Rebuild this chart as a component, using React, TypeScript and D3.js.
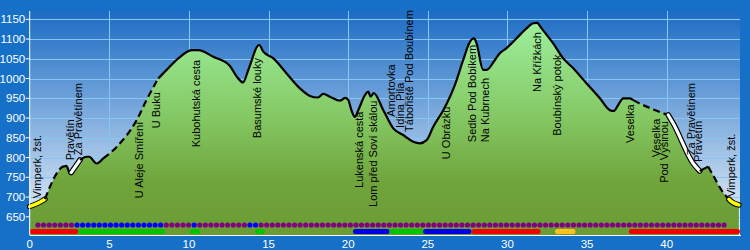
import React from "react";
import * as d3 from "d3";

// ---- profile data (km, metres) ----
const profileKm = [
  0, 0.85, 0.96, 1.27, 2.1, 2.3, 2.53, 2.6, 3.16, 3.58, 3.74, 4.2, 4.62, 5.46, 6.72, 7.34,
  8.07, 8.6, 9.33, 10.17, 10.58, 11.53, 12.57, 13.0, 13.4, 13.72, 14.41, 14.67, 15.3, 16.13,
  16.97, 17.6, 18.1, 18.43, 18.85, 19.48, 19.8, 20.0, 20.2, 20.42, 20.63, 21.05, 21.26, 21.4,
  21.6, 22.2, 22.83, 23.45, 24.08, 24.5, 24.92, 25.34, 25.97, 26.39, 26.7, 27.22, 27.64, 27.9,
  28.06, 28.47, 28.69, 29.21, 29.52, 29.94, 30.57, 31.2, 31.61, 31.86, 32.14, 32.87, 33.5,
  34.13, 34.96, 35.8, 36.43, 36.68, 36.95, 37.27, 37.69, 38.1, 39.15, 39.78, 40.09, 40.4,
  41.66, 42.07, 42.6, 42.9, 43.5, 43.75, 43.96, 44.53,
];
const profileElev = [
  676, 692, 695, 726, 777, 779, 760, 762, 794, 802, 802, 785, 798, 827, 895, 946,
  1000, 1022, 1051, 1072, 1072, 1055, 1032, 1005, 990, 1021, 1085, 1068, 1051, 1013,
  975, 956, 952, 961, 954, 944, 951, 946, 920, 903, 920, 958, 967, 954,
  963, 920, 874, 857, 840, 836, 844, 878, 920, 954, 984, 1047, 1093, 1102,
  1089, 1022, 1022, 1047, 1064, 1077, 1102, 1127, 1140, 1141, 1127, 1089, 1051,
  1026, 988, 950, 920, 918, 933, 950, 950, 941, 922, 912, 908, 887,
  785, 766, 777, 756, 714, 701, 692, 680,
];

// ---- line style segments ----
const segStart = [0, 0.96, 2.15, 2.6, 3.16, 4.62, 8.07, 37.9, 40.09, 42.07, 42.6, 43.9];
const segEnd = [0.96, 2.15, 2.6, 3.16, 4.62, 8.07, 37.9, 40.09, 42.07, 42.6, 43.9, 44.53];
const segKind = ["yellow", "dashed", "solid", "white", "solid", "dashed", "solid", "dashed", "white", "solid", "dashed", "yellow"];

// ---- waypoint labels ----
const labelNames = [
  "Vimperk, žst.", "Pravětín", "Za Pravětínem", "U Aleje Smíření", "U Buku", "Kubohutská cesta",
  "Basumské louky", "Lukenská cesta", "Lom před Soví skálou", "Amortovka", "Idina Pila",
  "Tábořiště Pod Boubínem", "U Obrázku", "Sedlo Pod Bobíkem", "Na Kubrnech", "Na Křížkách",
  "Boubínský potok", "Veselka", "Veselka", "Pod Výšinou", "Za Pravětínem", "Pravětín", "Vimperk, žst.",
];
const labelKm = [
  0.52, 2.62, 3.09, 6.92, 7.99, 10.53, 14.33, 20.77, 21.64, 22.77, 23.31, 23.87, 26.23, 27.83,
  28.64, 31.91, 33.16, 37.78, 39.38, 39.88, 41.61, 42.02, 44.09,
];
const labelBaseElev = [
  697, 793, 806, 697, 874, 826, 849, 723, 675, 903, 875, 865, 796, 839, 839, 966, 855, 837,
  801, 736, 806, 789, 700,
];

// ---- surface dots (row 1) ----
const dotBlueStart = [2.73, 10.3, 13.8, 41.5];
const dotBlueEnd = [8.3, 10.5, 14.3, 41.7];
const dotFirstKm = 0.52;
const dotLastKm = 43.6;

// ---- road type bars (row 2) ----
const barStart = [0, 3.05, 10.06, 14.15, 20.3, 22.6, 24.7, 27.75, 32.98, 37.62];
const barEnd = [3.05, 8.5, 10.7, 14.77, 22.6, 24.7, 27.75, 32.08, 34.27, 44.6];
const barType = ["red", "green", "green", "green", "blue", "green", "blue", "red", "gold", "red"];

// ---- ticks ----
const yTicks = [650, 700, 750, 800, 850, 900, 950, 1000, 1050, 1100, 1150];
const xTicks = [0, 5, 10, 15, 20, 25, 30, 35, 40];

const W = 750;
const H = 250;
const plotLeft = 29.7;
const plotRight = 740;
const plotTop = 11;
const plotBottom = 235;
const FONT = "'Liberation Sans', Arial, sans-serif";

const barColors: Record<string, string> = {
  red: "#f50000",
  green: "#00c400",
  blue: "#0000e6",
  gold: "#ffc020",
};

export default function App() {
  const x = d3.scaleLinear().domain([0, 44.6]).range([plotLeft, plotRight]);
  const y = d3.scaleLinear().domain([650, 1150]).range([216.8, 19.3]);

  const pts: [number, number][] = profileKm.map((k, i) => [k, profileElev[i]]);
  const interp = (k: number) => {
    const i = d3.bisector((d: [number, number]) => d[0]).left(pts, k);
    if (i <= 0) return pts[0][1];
    if (i >= pts.length) return pts[pts.length - 1][1];
    const a = pts[i - 1];
    const b = pts[i];
    return a[1] + ((b[1] - a[1]) * (k - a[0])) / (b[0] - a[0]);
  };

  const area = d3
    .area<[number, number]>()
    .x((d) => x(d[0]))
    .y0(plotBottom)
    .y1((d) => y(d[1]))
    .curve(d3.curveMonotoneX);
  const line = d3
    .line<[number, number]>()
    .x((d) => x(d[0]))
    .y((d) => y(d[1]))
    .curve(d3.curveMonotoneX);

  const segs = segStart.map((a, i) => {
    const b = segEnd[i];
    const sp: [number, number][] = [[a, interp(a)]];
    pts.forEach((p) => {
      if (p[0] > a && p[0] < b) sp.push(p);
    });
    sp.push([b, interp(b)]);
    return { d: line(sp) || "", kind: segKind[i] };
  });

  const dots: { k: number; c: string }[] = [];
  const nDots = 124;
  for (let i = 0; i < nDots; i++) {
    const k = dotFirstKm + ((dotLastKm - dotFirstKm) * i) / (nDots - 1);
    const blue = dotBlueStart.some((s, j) => k >= s && k <= dotBlueEnd[j]);
    dots.push({ k, c: blue ? "#0000ff" : "#800080" });
  }

  return (
    <svg
      width={W}
      height={H}
      style={{ position: "fixed", left: 0, top: 0, display: "block" }}
      fontFamily={FONT}
    >
      <defs>
        <linearGradient id="sky" gradientUnits="userSpaceOnUse" x1="0" y1={plotTop} x2="0" y2={plotBottom}>
          <stop offset="0" stopColor="#1c6cc4" />
          <stop offset="1" stopColor="#eef4fa" />
        </linearGradient>
        <linearGradient id="land" gradientUnits="userSpaceOnUse" x1="0" y1={20} x2="0" y2={plotBottom}>
          <stop offset="0" stopColor="#9ef09e" />
          <stop offset="0.45" stopColor="#84c864" />
          <stop offset="0.75" stopColor="#70a53c" />
          <stop offset="1" stopColor="#6a9c34" />
        </linearGradient>
      </defs>
      <rect x={0} y={0} width={W} height={H} fill="#1670c8" />
      <rect x={plotLeft} y={plotTop} width={plotRight - plotLeft} height={plotBottom - plotTop} fill="url(#sky)" />

      {yTicks.map((t) => (
        <line key={"gy" + t} x1={plotLeft} x2={plotRight} y1={Math.round(y(t)) + 0.5} y2={Math.round(y(t)) + 0.5} stroke="#86c6f2" strokeWidth={1} />
      ))}
      {xTicks.slice(1).map((t) => (
        <line key={"gx" + t} x1={Math.round(x(t)) + 0.5} x2={Math.round(x(t)) + 0.5} y1={plotTop} y2={plotBottom} stroke="#86c6f2" strokeWidth={1} />
      ))}

      <path d={area(pts) || ""} fill="url(#land)" />

      {segs.map((s, i) => {
        if (s.kind === "solid")
          return <path key={i} d={s.d} fill="none" stroke="#000" strokeWidth={2.2} strokeLinejoin="round" />;
        if (s.kind === "dashed")
          return <path key={i} d={s.d} fill="none" stroke="#000" strokeWidth={2.2} strokeDasharray="7,4" />;
        if (s.kind === "white")
          return (
            <g key={i}>
              <path d={s.d} fill="none" stroke="#000" strokeWidth={5.5} strokeLinecap="round" strokeLinejoin="round" />
              <path d={s.d} fill="none" stroke="#fff" strokeWidth={3.2} strokeLinecap="round" strokeLinejoin="round" />
            </g>
          );
        return (
          <g key={i}>
            <path d={s.d} fill="none" stroke="#000" strokeWidth={5.5} strokeLinecap="round" strokeLinejoin="round" />
            <path d={s.d} fill="none" stroke="#ffff00" strokeWidth={3.4} strokeLinecap="round" strokeLinejoin="round" />
          </g>
        );
      })}

      {labelNames.map((n, i) => (
        <text
          key={"l" + i}
          transform={`translate(${x(labelKm[i]) + 3},${y(labelBaseElev[i])}) rotate(-90)`}
          fontSize={11}
          fill="#000"
        >
          {n}
        </text>
      ))}

      {dots.map((d, i) => (
        <circle key={"d" + i} cx={x(d.k)} cy={225} r={2.6} fill={d.c} />
      ))}

      {barStart.map((s, i) => (
        <rect
          key={"b" + i}
          x={x(s)}
          y={229}
          width={x(barEnd[i]) - x(s)}
          height={5}
          rx={2.5}
          fill={barColors[barType[i]]}
        />
      ))}

      <line x1={plotLeft} x2={plotLeft} y1={plotTop} y2={plotBottom} stroke="#fff" strokeWidth={1} />
      <line x1={plotLeft} x2={plotRight + 1} y1={plotBottom + 0.5} y2={plotBottom + 0.5} stroke="#fff" strokeWidth={1.2} />

      {yTicks.map((t) => (
        <g key={"ty" + t}>
          <line x1={plotLeft - 4} x2={plotLeft} y1={y(t)} y2={y(t)} stroke="#fff" strokeWidth={1} />
          <text x={plotLeft - 4.5} y={y(t)} dy="0.35em" textAnchor="end" fill="#fff" fontSize={11.5}>
            {t}
          </text>
        </g>
      ))}
      {xTicks.map((t) => (
        <text key={"tx" + t} x={x(t)} y={247.5} textAnchor="middle" fill="#fff" fontSize={11.5}>
          {t}
        </text>
      ))}
    </svg>
  );
}
